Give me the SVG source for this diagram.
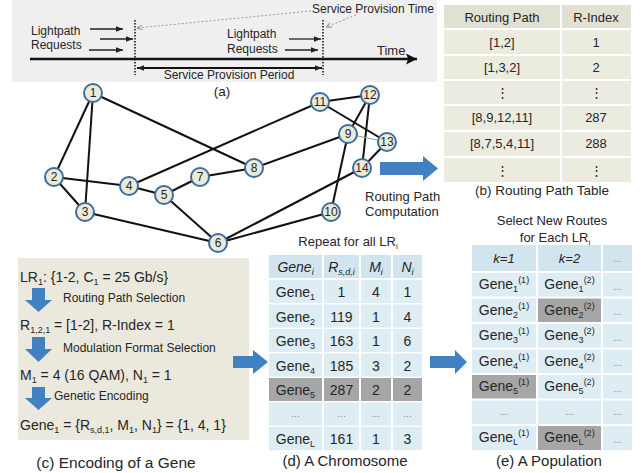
<svg xmlns="http://www.w3.org/2000/svg" width="643" height="473" viewBox="0 0 643 473">
<style>
text{font-family:"Liberation Sans",Arial,sans-serif;fill:#262626}
.t12{font-size:12px}
.t13{font-size:13px}
.t14{font-size:14px}
.c{text-anchor:middle}
.edge{stroke:#111;stroke-width:2;fill:none}
.node circle{fill:#ecebd9;stroke:#3c6e9e;stroke-width:2}
.node text{font-size:12px;text-anchor:middle}
.hb{fill:#e0e1d1}
.rb{fill:#ebecdf}
.hd{fill:#d2e4ee}
.rd{fill:#deecf3}
.gr{fill:#a6a6a6}
.blue{fill:#4281c1}
.dots{fill:#888;font-size:10px;text-anchor:middle}
.it{font-style:italic}
</style>
<defs>
<marker id="ah" viewBox="0 0 10 10" refX="10" refY="5" markerWidth="7" markerHeight="7" markerUnits="userSpaceOnUse" orient="auto-start-reverse"><path d="M0,1 L10,5 L0,9 z" fill="#222"/></marker>
<marker id="ahB" viewBox="0 0 10 10" refX="10" refY="5" markerWidth="11" markerHeight="11" markerUnits="userSpaceOnUse" orient="auto"><path d="M0,0 L10,5 L0,10 L2,5 z" fill="#111"/></marker>
<marker id="ahG" viewBox="0 0 10 10" refX="9" refY="5" markerWidth="6" markerHeight="6" markerUnits="userSpaceOnUse" orient="auto"><path d="M0,1 L9,5 L0,9" fill="none" stroke="#888" stroke-width="1.5"/></marker>
</defs>

<!-- (a) timeline panel -->
<g id="timeline">
<rect x="12" y="0" width="425" height="82" fill="#efefef"/>
<text class="t12" x="312" y="13">Service Provision Time</text>
<text class="t12" x="31" y="35">Lightpath</text>
<text class="t12" x="31" y="49">Requests</text>
<text class="t12" x="227" y="38">Lightpath</text>
<text class="t12" x="227" y="53">Requests</text>
<text class="t13" x="377" y="55">Time</text>
<text class="t12 c" x="229" y="79">Service Provision Period</text>
<line x1="135" y1="20" x2="135" y2="75" stroke="#111" stroke-width="1.5" stroke-dasharray="1.5 1.5"/>
<line x1="323" y1="20" x2="323" y2="75" stroke="#111" stroke-width="1.5" stroke-dasharray="1.5 1.5"/>
</g>
<text x="222" y="96" class="c" font-size="13.5">(a)</text>

<g id="labels">
<text class="t13" x="365" y="201">Routing Path</text>
<text class="t13" x="365" y="216">Computation</text>
<text class="t13 c" x="348" y="246">Repeat for all LR<tspan font-size="8" dy="3">i</tspan></text>
<text class="t13 c" x="552" y="225">Select New Routes</text>
<text class="t13 c" x="555" y="242">for Each LR<tspan font-size="8" dy="3">i</tspan></text>
</g>

<!-- (b) routing path table -->
<g id="routing-table">
<rect class="hb" x="444" y="5" width="116" height="23"/><rect class="hb" x="562" y="5" width="69" height="23"/>
<rect class="rb" x="444" y="30" width="116" height="24"/><rect class="rb" x="562" y="30" width="69" height="24"/>
<rect class="rb" x="444" y="56" width="116" height="23"/><rect class="rb" x="562" y="56" width="69" height="23"/>
<rect class="rb" x="444" y="81" width="116" height="23"/><rect class="rb" x="562" y="81" width="69" height="23"/>
<rect class="rb" x="444" y="106" width="116" height="24"/><rect class="rb" x="562" y="106" width="69" height="24"/>
<rect class="rb" x="444" y="132" width="116" height="24"/><rect class="rb" x="562" y="132" width="69" height="24"/>
<rect class="rb" x="444" y="158" width="116" height="24"/><rect class="rb" x="562" y="158" width="69" height="24"/>
<g class="t13 c">
<text x="502" y="22">Routing Path</text><text x="596" y="22">R-Index</text>
<text x="502" y="47">[1,2]</text><text x="596" y="47">1</text>
<text x="502" y="72">[1,3,2]</text><text x="596" y="72">2</text>
<text x="502" y="97">⋮</text><text x="596" y="97">⋮</text>
<text x="502" y="122">[8,9,12,11]</text><text x="596" y="122">287</text>
<text x="502" y="148">[8,7,5,4,11]</text><text x="596" y="148">288</text>
<text x="502" y="175">⋮</text><text x="596" y="175">⋮</text>
</g>
<text class="c" font-size="13.5" x="542" y="195">(b) Routing Path Table</text>
</g>

<!-- (c) encoding of a gene -->
<g id="encoding">
<rect x="18" y="258" width="231" height="182" fill="#ebe9dd"/>
<text class="t14" x="20" y="282">LR<tspan font-size="9" dy="3">1</tspan><tspan dy="-3">: {1-2, C</tspan><tspan font-size="9" dy="3">1</tspan><tspan dy="-3"> = 25 Gb/s}</tspan></text>
<text class="t12" x="63" y="302">Routing Path Selection</text>
<text class="t14" x="20" y="330">R<tspan font-size="9" dy="3">1,2,1</tspan><tspan dy="-3"> = [1-2], R-Index = 1</tspan></text>
<text class="t12" x="63" y="352">Modulation Format Selection</text>
<text class="t14" x="20" y="380">M<tspan font-size="9" dy="3">1</tspan><tspan dy="-3"> = 4 (16 QAM), N</tspan><tspan font-size="9" dy="3">1</tspan><tspan dy="-3"> = 1</tspan></text>
<text class="t12" x="54" y="400">Genetic Encoding</text>
<text class="t14" x="20" y="430">Gene<tspan font-size="9" dy="3">1</tspan><tspan dy="-3"> = {R</tspan><tspan font-size="9" dy="3">s,d,1</tspan><tspan dy="-3">, M</tspan><tspan font-size="9" dy="3">1</tspan><tspan dy="-3">, N</tspan><tspan font-size="9" dy="3">1</tspan><tspan dy="-3">} = {1, 4, 1}</tspan></text>
<text class="c" font-size="15.5" x="116" y="468">(c) Encoding of a Gene</text>
</g>

<!-- (d) chromosome -->
<g id="chromosome">
<rect class="hd" x="269" y="255" width="53" height="23"/><rect class="hd" x="324" y="255" width="35" height="23"/><rect class="hd" x="361" y="255" width="30" height="23"/><rect class="hd" x="393" y="255" width="29" height="23"/>
<g class="rd">
<rect x="269" y="280" width="53" height="23"/><rect x="324" y="280" width="35" height="23"/><rect x="361" y="280" width="30" height="23"/><rect x="393" y="280" width="29" height="23"/>
<rect x="269" y="304.5" width="53" height="23"/><rect x="324" y="304.5" width="35" height="23"/><rect x="361" y="304.5" width="30" height="23"/><rect x="393" y="304.5" width="29" height="23"/>
<rect x="269" y="329" width="53" height="23"/><rect x="324" y="329" width="35" height="23"/><rect x="361" y="329" width="30" height="23"/><rect x="393" y="329" width="29" height="23"/>
<rect x="269" y="353.5" width="53" height="23"/><rect x="324" y="353.5" width="35" height="23"/><rect x="361" y="353.5" width="30" height="23"/><rect x="393" y="353.5" width="29" height="23"/>
<rect x="269" y="402.5" width="53" height="23"/><rect x="324" y="402.5" width="35" height="23"/><rect x="361" y="402.5" width="30" height="23"/><rect x="393" y="402.5" width="29" height="23"/>
<rect x="269" y="427" width="53" height="23"/><rect x="324" y="427" width="35" height="23"/><rect x="361" y="427" width="30" height="23"/><rect x="393" y="427" width="29" height="23"/>
</g>
<g class="gr">
<rect x="269" y="378" width="53" height="23"/><rect x="324" y="378" width="35" height="23"/><rect x="361" y="378" width="30" height="23"/><rect x="393" y="378" width="29" height="23"/>
</g>
<g class="t14 c">
<text x="295.5" y="272" class="it">Gene<tspan font-size="9" dy="3">i</tspan></text>
<text x="341.5" y="272" class="it">R<tspan font-size="9" dy="3">s,d,i</tspan></text>
<text x="376" y="272" class="it">M<tspan font-size="9" dy="3">i</tspan></text>
<text x="407.5" y="272" class="it">N<tspan font-size="9" dy="3">i</tspan></text>
<text x="295.5" y="297">Gene<tspan font-size="9" dy="3">1</tspan></text><text x="341.5" y="297">1</text><text x="376" y="297">4</text><text x="407.5" y="297">1</text>
<text x="295.5" y="321.5">Gene<tspan font-size="9" dy="3">2</tspan></text><text x="341.5" y="321.5">119</text><text x="376" y="321.5">1</text><text x="407.5" y="321.5">4</text>
<text x="295.5" y="346">Gene<tspan font-size="9" dy="3">3</tspan></text><text x="341.5" y="346">163</text><text x="376" y="346">1</text><text x="407.5" y="346">6</text>
<text x="295.5" y="370.5">Gene<tspan font-size="9" dy="3">4</tspan></text><text x="341.5" y="370.5">185</text><text x="376" y="370.5">3</text><text x="407.5" y="370.5">2</text>
<text x="295.5" y="395">Gene<tspan font-size="9" dy="3">5</tspan></text><text x="341.5" y="395">287</text><text x="376" y="395">2</text><text x="407.5" y="395">2</text>
<text x="295.5" y="444">Gene<tspan font-size="9" dy="3">L</tspan></text><text x="341.5" y="444">161</text><text x="376" y="444">1</text><text x="407.5" y="444">3</text>
</g>
<text class="dots" x="295.5" y="417">...</text><text class="dots" x="341.5" y="417">...</text><text class="dots" x="376" y="417">...</text><text class="dots" x="407.5" y="417">...</text>
<text class="c" font-size="15" x="345" y="466">(d) A Chromosome</text>
</g>

<!-- (e) population -->
<g id="population">
<rect class="hd" x="472" y="245" width="64" height="26"/><rect class="hd" x="538" y="245" width="63" height="26"/><rect class="hd" x="603" y="245" width="29" height="26"/>
<g class="rd">
<rect x="472" y="273" width="64" height="23.5"/><rect x="538" y="273" width="63" height="23.5"/><rect x="603" y="273" width="29" height="23.5"/>
<rect x="472" y="298.5" width="64" height="23.5"/><rect x="603" y="298.5" width="29" height="23.5"/>
<rect x="472" y="324" width="64" height="23.5"/><rect x="538" y="324" width="63" height="23.5"/><rect x="603" y="324" width="29" height="23.5"/>
<rect x="472" y="349.5" width="64" height="23.5"/><rect x="538" y="349.5" width="63" height="23.5"/><rect x="603" y="349.5" width="29" height="23.5"/>
<rect x="538" y="375" width="63" height="23.5"/><rect x="603" y="375" width="29" height="23.5"/>
<rect x="472" y="400.5" width="64" height="23.5"/><rect x="538" y="400.5" width="63" height="23.5"/><rect x="603" y="400.5" width="29" height="23.5"/>
<rect x="472" y="426" width="64" height="24"/><rect x="603" y="426" width="29" height="24"/>
</g>
<g class="gr">
<rect x="538" y="298.5" width="63" height="23.5"/>
<rect x="472" y="375" width="64" height="23.5"/>
<rect x="538" y="426" width="63" height="24"/>
</g>
<g class="t14 c">
<text x="504" y="263" class="it" font-size="13">k=1</text>
<text x="569.5" y="263" class="it" font-size="13">k=2</text>
<text x="504" y="289">Gene<tspan font-size="9" dy="3">1</tspan><tspan font-size="9" dy="-9">(1)</tspan></text>
<text x="569.5" y="289">Gene<tspan font-size="9" dy="3">1</tspan><tspan font-size="9" dy="-9">(2)</tspan></text>
<text x="504" y="314.5">Gene<tspan font-size="9" dy="3">2</tspan><tspan font-size="9" dy="-9">(1)</tspan></text>
<text x="569.5" y="314.5">Gene<tspan font-size="9" dy="3">2</tspan><tspan font-size="9" dy="-9">(2)</tspan></text>
<text x="504" y="340">Gene<tspan font-size="9" dy="3">3</tspan><tspan font-size="9" dy="-9">(1)</tspan></text>
<text x="569.5" y="340">Gene<tspan font-size="9" dy="3">3</tspan><tspan font-size="9" dy="-9">(2)</tspan></text>
<text x="504" y="365.5">Gene<tspan font-size="9" dy="3">4</tspan><tspan font-size="9" dy="-9">(1)</tspan></text>
<text x="569.5" y="365.5">Gene<tspan font-size="9" dy="3">4</tspan><tspan font-size="9" dy="-9">(2)</tspan></text>
<text x="504" y="391">Gene<tspan font-size="9" dy="3">5</tspan><tspan font-size="9" dy="-9">(1)</tspan></text>
<text x="569.5" y="391">Gene<tspan font-size="9" dy="3">5</tspan><tspan font-size="9" dy="-9">(2)</tspan></text>
<text x="504" y="442">Gene<tspan font-size="9" dy="3">L</tspan><tspan font-size="9" dy="-9">(1)</tspan></text>
<text x="569.5" y="442">Gene<tspan font-size="9" dy="3">L</tspan><tspan font-size="9" dy="-9">(2)</tspan></text>
</g>
<text class="dots" x="617.5" y="262">...</text>
<text class="dots" x="617.5" y="290">...</text>
<text class="dots" x="617.5" y="315">...</text>
<text class="dots" x="617.5" y="341">...</text>
<text class="dots" x="617.5" y="366">...</text>
<text class="dots" x="617.5" y="392">...</text>
<text class="dots" x="504" y="415">...</text><text class="dots" x="569.5" y="415">...</text><text class="dots" x="617.5" y="415">...</text>
<text class="dots" x="617.5" y="443">...</text>
<text class="c" font-size="15" x="549" y="466">(e) A Population</text>
</g>

<g id="connectors">
<!-- timeline arrows -->
<line x1="30" y1="59" x2="417" y2="59" stroke="#111" stroke-width="2.5" marker-end="url(#ahB)"/>
<line x1="137" y1="68" x2="322" y2="68" stroke="#111" stroke-width="2" marker-start="url(#ah)" marker-end="url(#ah)"/>
<line x1="90" y1="29" x2="123" y2="29" stroke="#222" stroke-width="1.3" marker-end="url(#ah)"/>
<line x1="100" y1="39" x2="133" y2="39" stroke="#222" stroke-width="1.3" marker-end="url(#ah)"/>
<line x1="89" y1="50" x2="123" y2="50" stroke="#222" stroke-width="1.3" marker-end="url(#ah)"/>
<line x1="289" y1="39" x2="321" y2="39" stroke="#222" stroke-width="1.3" marker-end="url(#ah)"/>
<line x1="285" y1="50" x2="318" y2="50" stroke="#222" stroke-width="1.3" marker-end="url(#ah)"/>
<line x1="311" y1="11" x2="137" y2="28" stroke="#999" stroke-width="1" stroke-dasharray="2 2" marker-end="url(#ahG)"/>
<line x1="356" y1="15" x2="326" y2="27" stroke="#999" stroke-width="1" stroke-dasharray="2 2" marker-end="url(#ahG)"/>
<!-- graph edges -->
<g class="edge">
<line x1="93" y1="93" x2="54" y2="177"/>
<line x1="93" y1="93" x2="85" y2="212"/>
<line x1="93" y1="93" x2="254" y2="168"/>
<line x1="54" y1="177" x2="129" y2="186"/>
<line x1="54" y1="177" x2="85" y2="212"/>
<line x1="85" y1="212" x2="218" y2="243"/>
<line x1="129" y1="186" x2="164" y2="195"/>
<line x1="129" y1="186" x2="320" y2="102"/>
<line x1="164" y1="195" x2="200" y2="177"/>
<line x1="164" y1="195" x2="218" y2="243"/>
<line x1="200" y1="177" x2="254" y2="168"/>
<line x1="254" y1="168" x2="348" y2="134"/>
<line x1="348" y1="134" x2="331" y2="212"/>
<line x1="320" y1="102" x2="370" y2="95"/>
<line x1="320" y1="102" x2="387" y2="142"/>
<line x1="348" y1="134" x2="370" y2="95"/>
<line x1="370" y1="95" x2="362" y2="168"/>
<line x1="218" y1="243" x2="362" y2="168"/>
<line x1="387" y1="142" x2="362" y2="168"/>
<line x1="218" y1="243" x2="331" y2="212"/>
</g>
<line x1="348" y1="134" x2="387" y2="142" stroke="#999" stroke-width="1"/>
<!-- block arrows -->
<path class="blue" d="M380,162 H423 V156 L438,168.5 L423,181 V175 H380 Z"/>
<path class="blue" d="M233,356 H253 V350 L268,362 L253,374 V368 H233 Z"/>
<path class="blue" d="M430,356 H455 V350 L467,362 L455,374 V368 H430 Z"/>
<path class="blue" d="M32,288 H45 V300 H52 L38.5,312 L25,300 H32 Z"/>
<path class="blue" d="M32,337 H45 V349 H52 L38.5,362 L25,349 H32 Z"/>
<path class="blue" d="M32,387 H45 V398 H52 L38.5,410 L25,398 H32 Z"/>
</g>

<!-- graph nodes -->
<g id="n1" class="node"><circle cx="93" cy="93" r="9"/><text x="93" y="97">1</text></g>
<g id="n2" class="node"><circle cx="54" cy="177" r="9"/><text x="54" y="181">2</text></g>
<g id="n3" class="node"><circle cx="85" cy="212" r="9"/><text x="85" y="216">3</text></g>
<g id="n4" class="node"><circle cx="129" cy="186" r="9"/><text x="129" y="190">4</text></g>
<g id="n5" class="node"><circle cx="164" cy="195" r="9"/><text x="164" y="199">5</text></g>
<g id="n6" class="node"><circle cx="218" cy="243" r="9"/><text x="218" y="247">6</text></g>
<g id="n7" class="node"><circle cx="200" cy="177" r="9"/><text x="200" y="181">7</text></g>
<g id="n8" class="node"><circle cx="254" cy="168" r="9"/><text x="254" y="172">8</text></g>
<g id="n9" class="node"><circle cx="348" cy="134" r="9"/><text x="348" y="138">9</text></g>
<g id="n10" class="node"><circle cx="331" cy="212" r="9"/><text x="331" y="216">10</text></g>
<g id="n11" class="node"><circle cx="320" cy="102" r="9"/><text x="320" y="106">11</text></g>
<g id="n12" class="node"><circle cx="370" cy="95" r="9"/><text x="370" y="99">12</text></g>
<g id="n13" class="node"><circle cx="387" cy="142" r="9"/><text x="387" y="146">13</text></g>
<g id="n14" class="node"><circle cx="362" cy="168" r="9"/><text x="362" y="172">14</text></g>
</svg>
